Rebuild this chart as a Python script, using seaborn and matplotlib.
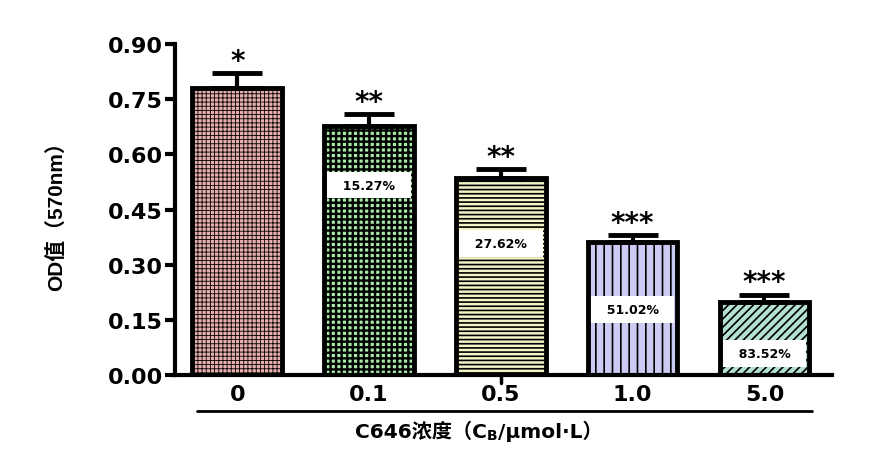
import matplotlib
matplotlib.use('Agg')
import matplotlib.pyplot as plt
import seaborn as sns
import pandas as pd

# data
conc = ['0', '0.1', '0.5', '1.0', '5.0']
od_mean = [0.780, 0.677, 0.536, 0.362, 0.198]
od_sd = [0.041, 0.033, 0.024, 0.019, 0.020]
stars = ['*', '**', '**', '***', '***']
inhib = ['', '15.27%', '27.62%', '51.02%', '83.52%']
inhib_y = [0, 0.517, 0.359, 0.179, 0.060]

bar_colors = ['#f2a3a3', '#9cf59c', '#fbfbbe', '#c4c4fa', '#ace8d2']
hatches = ['++++', '+++', '----', '||', '////']
hatch_lw = [0.6, 1.7, 1.2, 1.2, 1.2]

sns.set_style('white')
plt.rcParams['font.family'] = ['Liberation Sans', 'Noto Sans CJK SC', 'DejaVu Sans']
plt.rcParams['font.weight'] = 'bold'
plt.rcParams['hatch.linewidth'] = 1.2
for k in ['text.color', 'axes.labelcolor', 'xtick.color', 'ytick.color', 'axes.edgecolor']:
    plt.rcParams[k] = 'black'
wide = ['DejaVu Sans', 'Noto Sans CJK SC']

df = pd.DataFrame({'conc': conc, 'od': od_mean})

fig = plt.figure(figsize=(8.81, 4.56), dpi=100)
ax = fig.add_axes([0.199, 0.175, 0.745, 0.726])

sns.barplot(data=df, x='conc', y='od', hue='conc', palette=bar_colors,
            legend=False, width=0.68, edgecolor='black', linewidth=3.5,
            errorbar=None, ax=ax)

for p, h, lw in zip(ax.patches, hatches, hatch_lw):
    p.set_hatch(h)
    if hasattr(p, 'set_hatch_linewidth'):
        p.set_hatch_linewidth(lw)

ax.errorbar(range(len(conc)), od_mean, yerr=[[0] * len(conc), od_sd],
            fmt='none', ecolor='black', elinewidth=3, capsize=18, capthick=3.5,
            zorder=1)

for i, (m, s, st) in enumerate(zip(od_mean, od_sd, stars)):
    ax.text(i, m + s - 0.004, st, ha='center', va='bottom', fontsize=20,
            fontweight='bold', family=wide)

for i, (lab, yy) in enumerate(zip(inhib, inhib_y)):
    if lab:
        ax.text(i, yy, '  ' + lab + '  ', ha='center', va='center', fontsize=9,
                fontweight='bold', family=wide,
                bbox=dict(boxstyle='square,pad=0.55', fc='white', ec='none'))

ax.set_ylim(0, 0.9)
ax.set_xlim(-0.47, 4.51)
ax.set_yticks([0, 0.15, 0.30, 0.45, 0.60, 0.75, 0.90])
ax.set_yticklabels(['0.00', '0.15', '0.30', '0.45', '0.60', '0.75', '0.90'])
ax.tick_params(axis='y', direction='out', length=7, width=3, labelsize=16,
               left=True, pad=2)
ax.tick_params(axis='x', length=0, labelsize=16, pad=6)
for lab in ax.get_xticklabels() + ax.get_yticklabels():
    lab.set_fontweight('bold')
    lab.set_family(wide)

sns.despine(ax=ax)
ax.spines['left'].set_linewidth(3)
ax.spines['bottom'].set_linewidth(3)

# stray tick under 0.5
ax.plot([2, 2], [0, -0.02], color='black', lw=2.5, clip_on=False)

ax.set_xlabel('')
ax.set_ylabel('OD值（570nm）', fontsize=15, fontweight='bold', labelpad=30)

# line and label under the categories
fig.add_artist(plt.Line2D([197 / 881, 812 / 881], [1 - 412 / 456, 1 - 412 / 456],
                          color='black', lw=2))
t1 = fig.text(355 / 881, 1 - 432 / 456, 'C646浓度（C', ha='left', va='center',
              fontsize=14.5, fontweight='bold', family=wide)
t2 = ax.annotate('B', xy=(1, 0), xycoords=t1, xytext=(0, -1),
                 textcoords='offset points', ha='left', va='bottom',
                 fontsize=10, fontweight='bold', family=wide, annotation_clip=False)
ax.annotate('/μmol·L）', xy=(1, 0), xycoords=t2, xytext=(0, 1),
            textcoords='offset points', ha='left', va='bottom',
            fontsize=14.5, fontweight='bold', family=wide, annotation_clip=False)

fig.savefig('out.png', dpi=100)
